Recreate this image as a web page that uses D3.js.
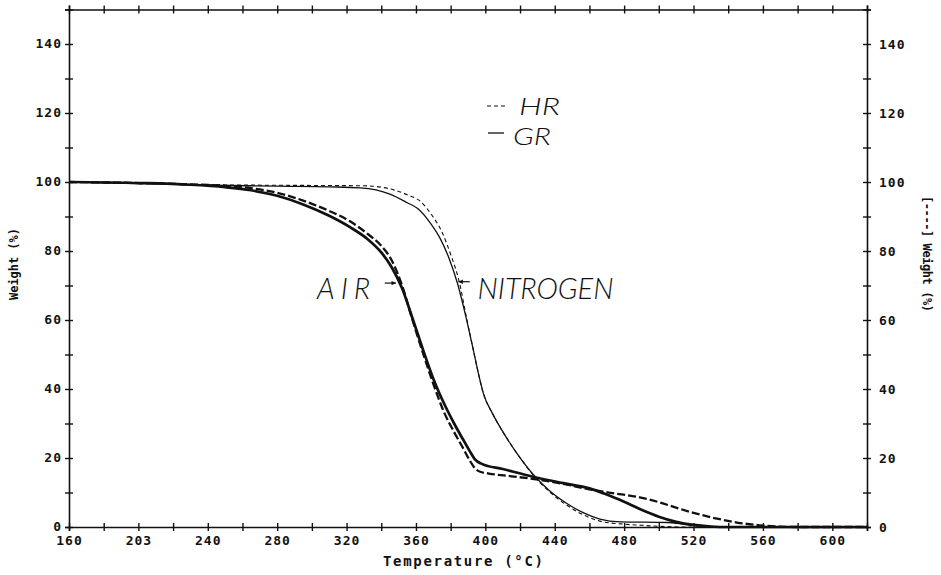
<!DOCTYPE html>
<html>
<head>
<meta charset="utf-8">
<script src="https://cdn.jsdelivr.net/npm/d3@7"></script>
<style>
  html, body { margin: 0; padding: 0; background: #fff; }
  svg { display: block; }
  .tick text, .axis-title { font-family: "DejaVu Sans Mono", "Liberation Mono", monospace; font-weight: bold; fill: #111; }
  .note { font-family: "Lato", "Open Sans", "DejaVu Sans", sans-serif; font-style: italic; font-weight: 300; fill: #111; }
</style>
</head>
<body>
<svg id="chart" width="941" height="575"></svg>
<script>
// TGA curves: weight (%) vs temperature (°C), air and nitrogen, HR and GR samples

const AIR_GR = [
  [160, 100], [200, 99.7], [230, 99.2], [250, 98.5], [265, 97.6], [280, 96], [295, 93.5],
  [310, 90.2], [322, 86.9], [332, 83.5], [340, 79.6], [346, 75.3], [352, 69.2], [358, 60.5],
  [364, 51.5], [370, 43], [376, 36], [382, 30], [387, 25.5], [391, 22], [394, 19.6],
  [398, 18.3], [410, 16.8], [428, 14.5], [445, 12.7], [460, 11.2], [470, 9.4], [480, 7.3],
  [490, 5], [500, 3], [510, 1.5], [520, 0.6], [530, 0.15], [540, 0], [620, 0]
];
const AIR_HR = [
  [160, 100], [200, 99.7], [230, 99.3], [250, 98.9], [265, 98.2], [280, 96.9], [295, 94.6],
  [310, 91.6], [322, 88.6], [332, 85], [340, 81.5], [346, 77.3], [352, 70], [358, 60],
  [364, 50.5], [370, 41.5], [376, 33.5], [382, 27.5], [387, 23], [391, 19.3], [394, 17],
  [397, 16], [402, 15.5], [415, 14.7], [428, 13.9], [445, 12.5], [460, 10.9], [475, 9.7],
  [489, 8.6], [500, 7.2], [510, 5.6], [520, 4.1], [532, 2.6], [545, 1.3], [558, 0.5],
  [570, 0.1], [580, 0], [620, 0]
];
const N2_GR = [
  [160, 100], [200, 99.6], [240, 99.1], [280, 98.8], [310, 98.6], [328, 98.3], [345, 96.5],
  [355, 94], [361, 92.3], [368, 88.3], [374, 83.6], [379, 78], [384, 70.5], [389, 60.5],
  [393, 51.5], [396, 44.5], [399, 38.5], [404, 33], [409, 28.5], [418, 21.5], [428, 15],
  [437, 10.5], [447, 6.8], [457, 4], [466, 2.3], [478, 1.5], [505, 1.3], [515, 0.8],
  [530, 0], [620, 0]
];
const N2_HR = [
  [160, 100], [240, 99.2], [300, 99], [330, 98.9], [345, 98], [355, 96.3], [363, 94.2],
  [369, 90.5], [375, 85.5], [380, 79], [385, 71], [389, 61], [393, 51.5], [396, 44.5],
  [399, 38.5], [404, 33], [409, 28.5], [418, 21.5], [428, 14.8], [437, 10.2], [447, 6.3],
  [457, 3.4], [466, 1.7], [478, 0.9], [490, 0.5], [500, 0.2], [515, 0], [620, 0]
];

const X_TICKS = [160, 180, 200, 220, 240, 260, 280, 300, 320, 340, 360, 380, 400, 420, 440, 460, 480, 500, 520, 540, 560, 580, 600, 620];
const X_LABELS = { 160: "160", 200: "203", 240: "240", 280: "280", 320: "320", 360: "360", 400: "400",
                   440: "440", 480: "480", 520: "520", 560: "560", 600: "600" };
const Y_TICKS = [0, 10, 20, 30, 40, 50, 60, 70, 80, 90, 100, 110, 120, 130, 140, 150];
const Y_LABELS = { 0: "0", 20: "20", 40: "40", 60: "60", 80: "80", 100: "100", 120: "120", 140: "140" };

const svg = d3.select("#chart");
const L = 69, R = 867, T = 9.5, B = 527;

const x = d3.scaleLinear().domain([160, 620]).range([L, R]);
const y = d3.scaleLinear().domain([0, 150]).range([B, T]);

// ── axes with cross ticks ──
function crossTicks(sel, axis, inner) {
  sel.select(".domain").attr("stroke-width", 1.6).attr("stroke", "#111").attr("fill", "none");
  sel.selectAll(".tick line").attr("stroke", "#111").attr("stroke-width", 1.4)
    .attr(axis === "x" ? "y1" : "x1", inner);
}

const gx = svg.append("g").attr("transform", `translate(0,${B})`)
  .call(d3.axisBottom(x).tickValues(X_TICKS).tickSize(4)
    .tickFormat(d => X_LABELS[d] || ""));
crossTicks(gx, "x", -4);
gx.selectAll(".tick text").attr("font-size", 13).attr("letter-spacing", 1)
  .attr("y", 17.5).attr("dy", 0);

const gxt = svg.append("g").attr("transform", `translate(0,${T})`)
  .call(d3.axisTop(x).tickValues(X_TICKS).tickSize(4).tickFormat(""));
crossTicks(gxt, "x", 4);

const gy = svg.append("g").attr("transform", `translate(${L},0)`)
  .call(d3.axisLeft(y).tickValues(Y_TICKS).tickSize(4).tickPadding(3)
    .tickFormat(d => Y_LABELS[d] || ""));
crossTicks(gy, "y", 4);
gy.selectAll(".tick text").attr("font-size", 13).attr("letter-spacing", 1).attr("dy", "0.28em");

const gyr = svg.append("g").attr("transform", `translate(${R},0)`)
  .call(d3.axisRight(y).tickValues(Y_TICKS).tickSize(4).tickPadding(8)
    .tickFormat(d => Y_LABELS[d] || ""));
crossTicks(gyr, "y", -4);
gyr.selectAll(".tick text").attr("font-size", 13).attr("letter-spacing", 1);

// axis titles
svg.append("text").attr("class", "axis-title")
  .attr("x", 463).attr("y", 566)
  .attr("text-anchor", "middle").attr("font-size", 14)
  .attr("textLength", 160).attr("lengthAdjust", "spacing")
  .text("Temperature (°C)");

svg.append("text").attr("class", "axis-title")
  .attr("transform", "translate(18,264) rotate(-90)")
  .attr("text-anchor", "middle").attr("font-size", 12)
  .attr("textLength", 72).attr("lengthAdjust", "spacing")
  .text("Weight (%)");

svg.append("text").attr("class", "axis-title")
  .attr("transform", "translate(923,254) rotate(90)")
  .attr("text-anchor", "middle").attr("font-size", 12)
  .attr("textLength", 116).attr("lengthAdjust", "spacing")
  .text("[----] Weight (%)");

// ── curves ──
const line = d3.line().x(d => x(d[0])).y(d => y(d[1])).curve(d3.curveMonotoneX);

const SERIES = [
  { data: N2_HR,  width: 1.1, dash: "4,3" },
  { data: N2_GR,  width: 1.3, dash: null },
  { data: AIR_HR, width: 2.3, dash: "8,3" },
  { data: AIR_GR, width: 2.7, dash: null }
];
svg.append("g").selectAll("path")
  .data(SERIES).join("path")
  .attr("d", d => line(d.data))
  .attr("fill", "none")
  .attr("stroke", "#111")
  .attr("stroke-width", d => d.width)
  .attr("stroke-dasharray", d => d.dash)
  .attr("stroke-linejoin", "round");

// ── annotations ──
function arrow(x1, y1, x2, y2) {
  const a = Math.atan2(y2 - y1, x2 - x1), h = 5;
  svg.append("line").attr("x1", x1).attr("y1", y1).attr("x2", x2).attr("y2", y2)
    .attr("stroke", "#111").attr("stroke-width", 1.2);
  svg.append("path")
    .attr("d", `M${x2},${y2}L${x2 - h * Math.cos(a - 0.45)},${y2 - h * Math.sin(a - 0.45)}` +
               `L${x2 - h * Math.cos(a + 0.45)},${y2 - h * Math.sin(a + 0.45)}Z`)
    .attr("fill", "#111");
}

svg.append("text").attr("class", "note")
  .attr("x", x(303)).attr("y", y(66)).attr("font-size", 29)
  .attr("textLength", 53).attr("lengthAdjust", "spacing").text("AIR");
arrow(x(342), y(70.7), x(348.5), y(70.7));

svg.append("text").attr("class", "note")
  .attr("x", x(395.5)).attr("y", y(66)).attr("font-size", 29)
  .attr("textLength", 136).attr("lengthAdjust", "spacing").text("NITROGEN");
arrow(x(391), y(71.1), x(384.5), y(71.1));

// legend
svg.append("line").attr("x1", 487).attr("x2", 508).attr("y1", 106).attr("y2", 106)
  .attr("stroke", "#111").attr("stroke-width", 1.2).attr("stroke-dasharray", "4,3");
svg.append("text").attr("class", "note")
  .attr("x", 519).attr("y", 115).attr("font-size", 24)
  .attr("textLength", 41).attr("lengthAdjust", "spacingAndGlyphs").text("HR");
svg.append("line").attr("x1", 488).attr("x2", 504).attr("y1", 133).attr("y2", 133)
  .attr("stroke", "#111").attr("stroke-width", 1.3);
svg.append("text").attr("class", "note")
  .attr("x", 513).attr("y", 145).attr("font-size", 24)
  .attr("textLength", 38).attr("lengthAdjust", "spacingAndGlyphs").text("GR");
</script>
</body>
</html>
